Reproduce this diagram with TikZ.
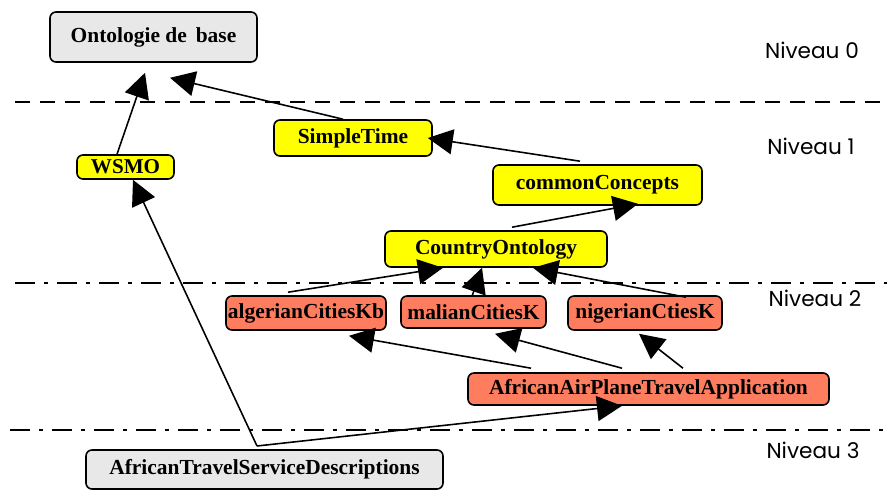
\documentclass[tikz,border=0pt]{standalone}
\usepackage{fontspec}
\setmainfont{Liberation Serif}
\newfontfamily\nivfont{Poppins}
\usetikzlibrary{arrows.meta,positioning}
\definecolor{basec}{RGB}{232,232,232}
\definecolor{jaune}{RGB}{255,255,0}
\definecolor{saumon}{RGB}{255,125,95}

\tikzset{
  onto/.style={draw,line width=0.9pt,rounded corners=0.12cm,inner sep=0pt,
    font=\bfseries\fontsize{12.2}{14}\selectfont},
  niv/.style={font=\nivfont\fontsize{12.3}{14}\selectfont},
  tip/.style={-{Triangle[length=0.5cm,width=0.5cm]},line width=0.9pt},
  sep/.style={line width=1.6pt}
}

\begin{document}
\begin{tikzpicture}[>=Latex]
  \useasboundingbox (0,0) rectangle (17.74,9.8);
  % separateurs de niveaux
  \draw[sep,dash pattern=on 0.3cm off 0.2cm] (0.3,7.76)--(17.74,7.76);
  \draw[sep,dash pattern=on 0.4cm off 0.18cm on 0.08cm off 0.18cm] (0.3,4.14)--(17.74,4.14);
  \draw[sep,dash pattern=on 0.4cm off 0.18cm on 0.08cm off 0.18cm] (0.2,1.2)--(17.74,1.2);
  \node[niv] (n0) at (16.24,8.8) {Niveau 0};
  \node[niv] (n1) at (16.22,6.88) {Niveau 1};
  \node[niv] (n2) at (16.3,3.84) {Niveau 2};
  \node[niv] (n3) at (16.26,0.8) {Niveau 3};
  % niveau 0
  \node[onto,fill=basec,minimum width=4.14cm,minimum height=1.0cm] (base) at (3.07,9.06) {Ontologie de\ \,base};
  % niveau 1
  \node[onto,fill=jaune,minimum width=3.16cm,minimum height=0.72cm] (simple) at (7.06,7.04) {SimpleTime};
  \node[onto,fill=jaune,minimum width=1.94cm,minimum height=0.48cm,font=\bfseries\fontsize{12}{13}\selectfont] (wsmo) at (2.51,6.46) {WSMO};
  \node[onto,fill=jaune,minimum width=4.18cm,minimum height=0.8cm] (common) at (11.95,6.10) {commonConcepts};
  \node[onto,fill=jaune,minimum width=4.44cm,minimum height=0.72cm] (country) at (9.92,4.82) {CountryOntology};
  % niveau 2
  \node[onto,fill=saumon,minimum width=3.2cm,minimum height=0.68cm] (alg) at (6.12,3.54) {algerianCitiesKb};
  \node[onto,fill=saumon,minimum width=2.9cm,minimum height=0.64cm] (mali) at (9.47,3.56) {malianCitiesK};
  \node[onto,fill=saumon,minimum width=3.08cm,minimum height=0.68cm] (nig) at (12.9,3.54) {nigerianCtiesK};
  \node[onto,fill=saumon,minimum width=7.22cm,minimum height=0.64cm] (app) at (12.97,2.02) {AfricanAirPlaneTravelApplication};
  % niveau 3
  \node[onto,fill=basec,minimum width=7.14cm,minimum height=0.78cm] (desc) at (5.29,0.41) {AfricanTravelServiceDescriptions};
  \coordinate (join) at (5.14,0.88);
  % importations
  \draw[tip] ([xshift=-0.17cm]wsmo.north) -- ([xshift=-0.17cm,yshift=-0.2cm]base.south);
  \draw[tip] ([xshift=-0.2cm]simple.north) -- ([xshift=0.33cm,yshift=-0.3cm]base.south);
  \draw[tip] ([xshift=-0.35cm,yshift=0.06cm]common.north) -- ([xshift=-0.1cm]simple.east);
  \draw[tip] ([xshift=0.32cm,yshift=0.06cm]country.north) -- ([xshift=0.81cm,yshift=0.04cm]common.south);
  \draw[tip] ([xshift=-0.36cm,yshift=0.06cm]alg.north) -- ([xshift=-1.06cm]country.south);
  \draw[tip] ([xshift=-0.03cm,yshift=-0.02cm]mali.north) -- ([xshift=-0.28cm]country.south);
  \draw[tip] ([xshift=0.82cm,yshift=-0.04cm]nig.north) -- ([xshift=0.74cm]country.south);
  \draw[tip] ([xshift=-2.35cm,yshift=0.08cm]app.north) -- ([xshift=0.86cm,yshift=-0.1cm]alg.south);
  \draw[tip] ([xshift=-0.53cm,yshift=0.08cm]app.north) -- ([xshift=0.43cm,yshift=-0.1cm]mali.south);
  \draw[tip] ([xshift=0.69cm,yshift=0.08cm]app.north) -- ([xshift=-0.12cm,yshift=-0.06cm]nig.south);
  \draw[tip] (join) -- ([xshift=0.15cm]wsmo.south);
  \draw[tip] (join) -- ([xshift=-0.53cm]app.south);
\end{tikzpicture}
\end{document}
